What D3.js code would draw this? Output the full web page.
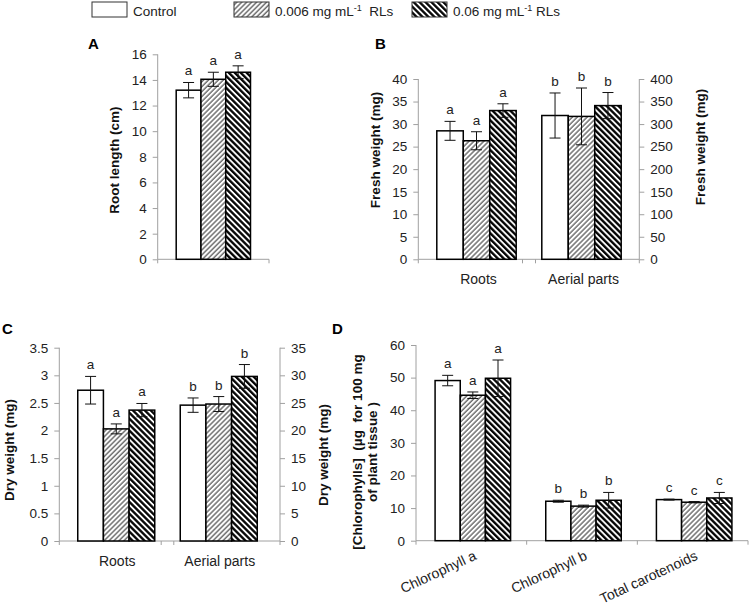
<!DOCTYPE html>
<html>
<head>
<meta charset="utf-8">
<script src="https://cdn.jsdelivr.net/npm/d3@7"></script>
<style>
  body { margin: 0; background: #fff; }
  svg { font-family: "Liberation Sans", Arial, sans-serif; }
  .axis path, .axis line { stroke: #a0a0a0; }
  .axis text { fill: #222; font-size: 13.5px; }
  .ytitle { font-weight: bold; font-size: 13.5px; fill: #111; }
  .panel { font-weight: bold; font-size: 15px; }
  .sig { font-size: 13.5px; fill: #222; text-anchor: middle; }
  .cat { font-size: 14px; fill: #222; }
</style>
</head>
<body>
<svg id="chart" width="753" height="610"></svg>
<script>
// ---- data ----
const series = ["Control", "0.006 mg mL", "0.06 mg mL"];

// A: root length (cm)
const rootLength = [13.2, 14.05, 14.6];
const rootLengthErr = [0.6, 0.55, 0.5];
const rootLengthSig = ["a", "a", "a"];

// B: fresh weight (mg), roots on left axis, aerial parts on right axis
const freshCats = ["Roots", "Aerial parts"];
const freshRoots = [28.5, 26.3, 33.0];
const freshRootsErr = [2.1, 2.0, 1.5];
const freshAerial = [319, 317, 341];
const freshAerialErr = [50, 63, 29];
const freshSig = [["a", "a", "a"], ["b", "b", "b"]];

// C: dry weight (mg)
const dryCats = ["Roots", "Aerial parts"];
const dryRoots = [2.73, 2.03, 2.37];
const dryRootsErr = [0.25, 0.09, 0.12];
const dryAerial = [24.6, 24.8, 29.8];
const dryAerialErr = [1.3, 1.35, 2.15];
const drySig = [["a", "a", "a"], ["b", "b", "b"]];

// D: pigments (ug per 100 mg of plant tissue)
const pigCats = ["Chlorophyll a", "Chlorophyll b", "Total carotenoids"];
const pigValues = [[49.1, 44.6, 49.8], [12.1, 10.6, 12.4], [12.6, 11.8, 13.1]];
const pigErr = [[1.6, 1.0, 5.6], [0.3, 0.3, 2.4], [0.15, 0.2, 1.7]];
const pigSig = [["a", "a", "a"], ["b", "b", "b"], ["c", "c", "c"]];

const svg = d3.select("#chart");
const fills = ["#fff", "url(#hatchLight)", "url(#hatchDark)"];

// hatch patterns
const defs = svg.append("defs");
defs.append("pattern").attr("id", "hatchLight")
  .attr("patternUnits", "userSpaceOnUse").attr("width", 3.5).attr("height", 3.5)
  .attr("patternTransform", "rotate(45)")
  .call(p => {
    p.append("rect").attr("width", 3.5).attr("height", 3.5).attr("fill", "#fff");
    p.append("line").attr("x1", 1).attr("x2", 1).attr("y1", 0).attr("y2", 3.5)
      .attr("stroke", "#666").attr("stroke-width", 1.4);
  });
defs.append("pattern").attr("id", "hatchDark")
  .attr("patternUnits", "userSpaceOnUse").attr("width", 4.2).attr("height", 4.2)
  .attr("patternTransform", "rotate(-45)")
  .call(p => {
    p.append("rect").attr("width", 4.2).attr("height", 4.2).attr("fill", "#fff");
    p.append("line").attr("x1", 1.2).attr("x2", 1.2).attr("y1", 0).attr("y2", 4.2)
      .attr("stroke", "#000").attr("stroke-width", 2.3);
  });

// legend
const legendX = [92, 234, 412];
const legend = svg.append("g");
series.forEach((s, i) => {
  legend.append("rect").attr("x", legendX[i]).attr("y", 2).attr("width", 35).attr("height", 15)
    .attr("fill", fills[i]).attr("stroke", "#333").attr("stroke-width", 1);
  const t = legend.append("text").attr("x", legendX[i] + 41).attr("y", 16)
    .attr("font-size", 13.5).attr("fill", "#222").text(s);
  if (i > 0) {
    t.append("tspan").attr("dy", -5).attr("font-size", 9).text("-1");
    t.append("tspan").attr("dy", 5).attr("xml:space", "preserve").text(i == 1 ? "  RLs" : " RLs");
  }
});

function yAxisLeft(y, x0, ticks, fmt) {
  svg.append("g").attr("class", "axis").attr("transform", "translate(" + x0 + ",0)")
    .call(d3.axisLeft(y).tickValues(ticks).tickSize(5).tickSizeOuter(0).tickPadding(6).tickFormat(fmt || d3.format("")))
    .call(g => g.select(".domain").attr("d", "M0," + y.range()[0] + "V" + y.range()[1]));
}
function yAxisRight(y, x0, ticks) {
  svg.append("g").attr("class", "axis").attr("transform", "translate(" + x0 + ",0)")
    .call(d3.axisRight(y).tickValues(ticks).tickSize(5).tickSizeOuter(0).tickPadding(6).tickFormat(d3.format("")))
    .call(g => g.select(".domain").attr("d", "M0," + y.range()[0] + "V" + y.range()[1]));
}
function xBase(x1, x2, y0, tickXs) {
  const g = svg.append("g").attr("class", "axis");
  g.append("line").attr("x1", x1).attr("x2", x2).attr("y1", y0).attr("y2", y0);
  tickXs.forEach(t => g.append("line").attr("x1", t).attr("x2", t).attr("y1", y0).attr("y2", y0 + 4));
}

// draws the three bars of one category
function drawGroup(xc, gw, y, vals, errs, sig) {
  const inner = d3.scaleBand().domain(d3.range(vals.length)).range([xc - gw / 2, xc + gw / 2]);
  const g = svg.append("g");
  vals.forEach((v, i) => {
    const bx = inner(i), bw = inner.bandwidth();
    g.append("rect").attr("x", bx).attr("y", y(v)).attr("width", bw).attr("height", y(0) - y(v))
      .attr("fill", fills[i]).attr("stroke", "#000").attr("stroke-width", 1.5);
    const cx = bx + bw / 2, top = y(v + errs[i]), bot = y(v - errs[i]);
    g.append("line").attr("x1", cx).attr("x2", cx).attr("y1", top).attr("y2", bot).attr("stroke", "#111");
    [top, bot].forEach(yy => g.append("line").attr("x1", cx - 5.5).attr("x2", cx + 5.5)
      .attr("y1", yy).attr("y2", yy).attr("stroke", "#111"));
    g.append("text").attr("class", "sig").attr("x", cx).attr("y", top - 7).text(sig[i]);
  });
}

function ytitle(x, y, lines) {
  const t = svg.append("text").attr("class", "ytitle").attr("text-anchor", "middle")
    .attr("transform", "translate(" + x + "," + y + ") rotate(-90)");
  lines.forEach((l, i) => t.append("tspan").attr("x", 0).attr("dy", i ? 15 : 0)
    .attr("xml:space", "preserve").text(l));
}

// ---- Panel A ----
const yA = d3.scaleLinear().domain([0, 16]).range([259.3, 54.3]);
const xA = d3.scaleBand().domain(["root"]).range([157.7, 269]);
xBase(157.7, 269, 259.3, [157.7, 269]);
yAxisLeft(yA, 157.7, d3.range(0, 17, 2));
drawGroup(xA("root") + xA.bandwidth() / 2, 74.3, yA, rootLength, rootLengthErr, rootLengthSig);
svg.append("text").attr("class", "panel").attr("x", 88).attr("y", 49).text("A");
ytitle(119, 160, ["Root length (cm)"]);

// ---- Panel B ----
const yBL = d3.scaleLinear().domain([0, 40]).range([259.3, 79]);
const yBR = d3.scaleLinear().domain([0, 400]).range([259.3, 79]);
const xB = d3.scaleBand().domain(freshCats).range([424, 634]);
const midB = (xB("Roots") + xB.bandwidth() + xB("Aerial parts")) / 2;
xBase(418.3, 639.3, 259.3, [418.3, midB - 6.5, midB + 6.5, 639.3]);
yAxisLeft(yBL, 418.3, d3.range(0, 41, 5));
yAxisRight(yBR, 639.3, d3.range(0, 401, 50));
drawGroup(xB("Roots") + xB.bandwidth() / 2, 79.4, yBL, freshRoots, freshRootsErr, freshSig[0]);
drawGroup(xB("Aerial parts") + xB.bandwidth() / 2, 79.4, yBR, freshAerial, freshAerialErr, freshSig[1]);
freshCats.forEach(c => svg.append("text").attr("class", "cat").attr("text-anchor", "middle")
  .attr("x", xB(c) + xB.bandwidth() / 2 + 2).attr("y", 284).text(c));
svg.append("text").attr("class", "panel").attr("x", 375).attr("y", 49).text("B");
ytitle(380, 150, ["Fresh weight (mg)"]);
ytitle(705, 147, ["Fresh weight (mg)"]);

// ---- Panel C ----
const yCL = d3.scaleLinear().domain([0, 3.5]).range([541, 347.7]);
const yCR = d3.scaleLinear().domain([0, 35]).range([541, 347.7]);
const xC = d3.scaleBand().domain(dryCats).range([65, 270]);
const midC = (xC("Roots") + xC.bandwidth() + xC("Aerial parts")) / 2;
xBase(59.3, 280, 541, [59.3, midC - 6.3, midC + 6.3, 280]);
yAxisLeft(yCL, 59.3, d3.range(0, 3.51, 0.5), d3.format(""));
yAxisRight(yCR, 280, d3.range(0, 36, 5));
drawGroup(xC("Roots") + xC.bandwidth() / 2, 77, yCL, dryRoots, dryRootsErr, drySig[0]);
drawGroup(xC("Aerial parts") + xC.bandwidth() / 2, 77, yCR, dryAerial, dryAerialErr, drySig[1]);
dryCats.forEach(c => svg.append("text").attr("class", "cat").attr("text-anchor", "middle")
  .attr("x", xC(c) + xC.bandwidth() / 2 + 1).attr("y", 566).text(c));
svg.append("text").attr("class", "panel").attr("x", 2).attr("y", 334).text("C");
ytitle(13.5, 450, ["Dry weight (mg)"]);
ytitle(328, 455, ["Dry weight (mg)"]);

// ---- Panel D ----
const yD = d3.scaleLinear().domain([0, 60]).range([540.7, 345]);
const xD = d3.scaleBand().domain(pigCats).range([416, 748]);
xBase(416, 748, 540.7, pigCats.slice(1).map(c => xD(c)).concat([416, 748]));
yAxisLeft(yD, 416, d3.range(0, 61, 10));
pigCats.forEach((c, k) => {
  drawGroup(xD(c) + xD.bandwidth() / 2 + 1.5, 75.5, yD, pigValues[k], pigErr[k], pigSig[k]);
  const cx = xD(c) + xD.bandwidth() / 2 + 6;
  svg.append("text").attr("class", "cat").attr("text-anchor", "end")
    .attr("transform", "translate(" + cx + "," + 559 + ") rotate(-25)").text(c);
});
svg.append("text").attr("class", "panel").attr("x", 332).attr("y", 334).text("D");
ytitle(362, 452, ["[Chlorophylls]  (µg  for 100 mg", "of plant tissue )"]);
</script>
</body>
</html>
